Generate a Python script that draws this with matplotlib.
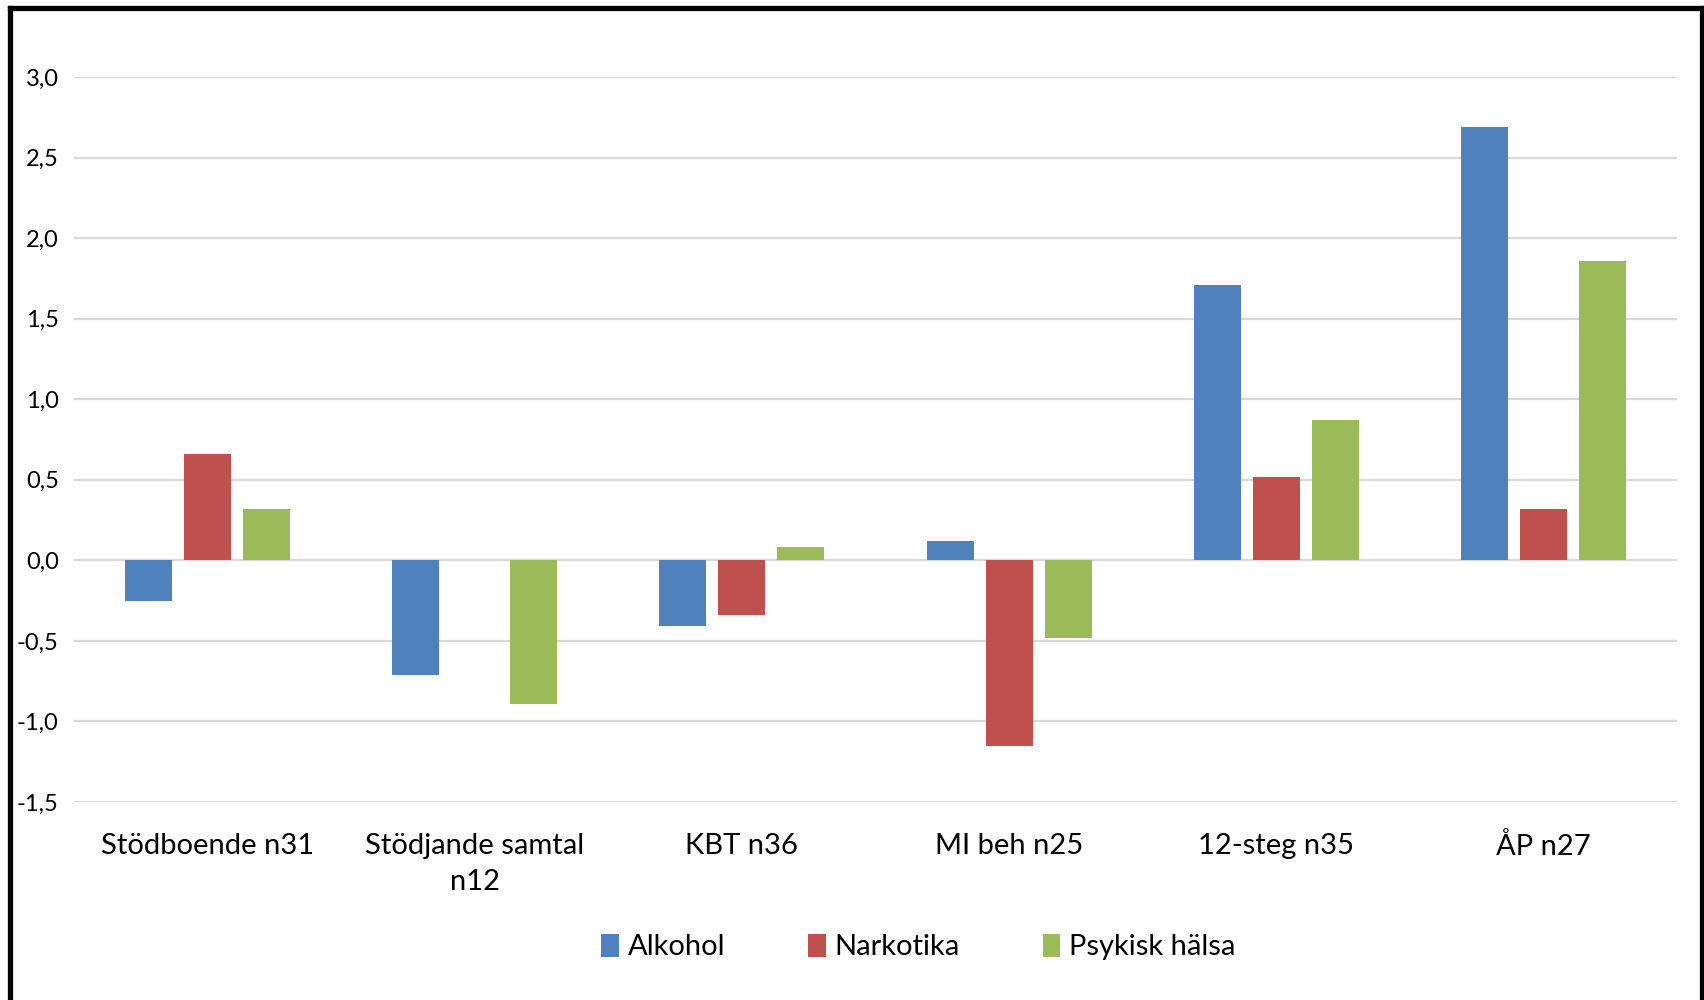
import matplotlib

matplotlib.use("Agg")

import matplotlib.pyplot as plt
import numpy as np
from matplotlib.lines import Line2D


CATEGORIES = [
    "Stödboende n31",
    "Stödjande samtal\nn12",
    "KBT n36",
    "MI beh n25",
    "12-steg n35",
    "ÅP n27",
]
SERIES_NAMES = ["Alkohol", "Narkotika", "Psykisk hälsa"]
ALKOHOL = [-0.25, -0.71, -0.41, 0.12, 1.71, 2.69]
NARKOTIKA = [0.66, 0.0, -0.34, -1.15, 0.52, 0.32]
PSYKISK_HALSA = [0.32, -0.89, 0.08, -0.48, 0.87, 1.86]
Y_TICKS = [-1.5, -1.0, -0.5, 0.0, 0.5, 1.0, 1.5, 2.0, 2.5, 3.0]

COLORS = ["#4F81BD", "#C0504D", "#9BBB59"]
GRID_COLOR = "#D9D9D9"
FONT = ["Lato", "DejaVu Sans"]


def fmt_tick(value: float) -> str:
    return f"{value:.1f}".replace(".", ",")


def draw_frame(fig) -> None:
    # black border round the chart, open at the bottom like the source crop
    kw = dict(color="black", linewidth=3.8, transform=fig.transFigure,
              solid_capstyle="projecting")
    fig.lines.append(Line2D([0.0059, 0.0059], [0.0, 0.9925], **kw))
    fig.lines.append(Line2D([0.0059, 0.9988], [0.9925, 0.9925], **kw))
    fig.lines.append(Line2D([0.9988, 0.9988], [0.0, 0.9925], **kw))


def main() -> None:
    plt.rcParams["font.family"] = FONT
    fig = plt.figure(figsize=(17.04, 10.0), dpi=100)
    ax = fig.add_axes([0.0434, 0.198, 0.9408, 0.725])

    values = [ALKOHOL, NARKOTIKA, PSYKISK_HALSA]
    x = np.arange(len(CATEGORIES))
    width = 0.176
    step = 0.221
    for i, (name, vals, color) in enumerate(zip(SERIES_NAMES, values, COLORS)):
        ax.bar(x + (i - 1) * step, vals, width=width, color=color,
               label=name, zorder=3)

    ax.set_xlim(-0.5, len(CATEGORIES) - 0.5)
    ax.set_ylim(-1.5, 3.0)
    ax.set_yticks(Y_TICKS)
    ax.set_yticklabels([fmt_tick(v) for v in Y_TICKS], fontsize=17)
    ax.set_xticks(x)
    ax.set_xticklabels(CATEGORIES, fontsize=21, multialignment="center",
                       linespacing=1.5)
    ax.tick_params(axis="both", length=0)
    ax.tick_params(axis="x", pad=22)
    ax.tick_params(axis="y", pad=11)
    ax.grid(axis="y", color=GRID_COLOR, linewidth=1.6, zorder=0)
    ax.set_axisbelow(True)
    for spine in ax.spines.values():
        spine.set_visible(False)

    fig.legend(
        loc="center",
        bbox_to_anchor=(0.539, 0.053),
        ncol=3,
        frameon=False,
        fontsize=21,
        handlelength=0.6,
        handleheight=0.85,
        handletextpad=0.3,
        columnspacing=2.85,
    )

    draw_frame(fig)
    fig.savefig("out.png", dpi=100, facecolor="white")


if __name__ == "__main__":
    main()
